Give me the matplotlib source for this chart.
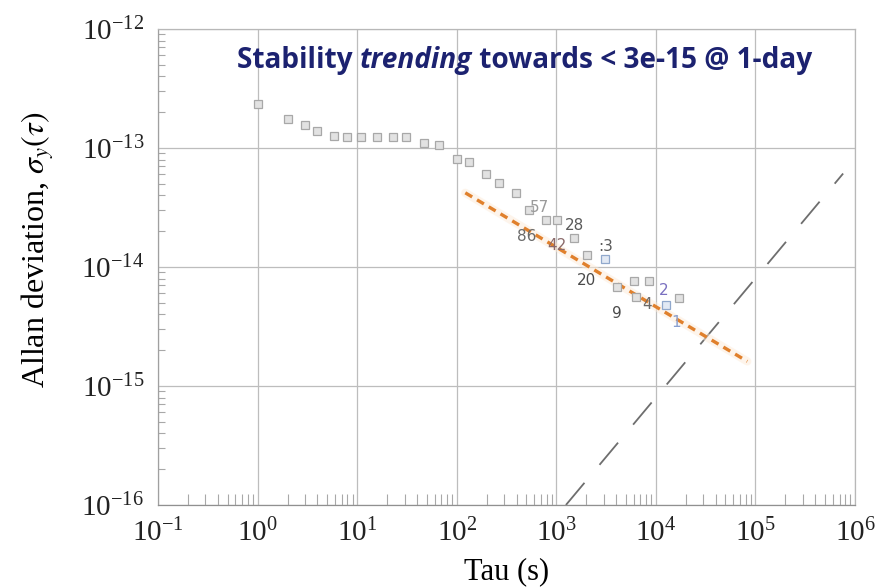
import numpy as np
import matplotlib
matplotlib.use("Agg")
import matplotlib.pyplot as plt
from matplotlib.ticker import FixedLocator, NullFormatter

tau_gray = [1, 2, 3, 4, 5.8, 8, 11, 16, 23, 31, 47, 67, 100, 133, 197, 263,
            393, 535, 787, 1025, 1520, 2050, 4110, 6030, 8500, 6300, 17100]
adev_gray = [2.34e-13, 1.74e-13, 1.56e-13, 1.40e-13, 1.26e-13, 1.24e-13,
             1.24e-13, 1.24e-13, 1.24e-13, 1.24e-13, 1.10e-13, 1.06e-13,
             8.1e-14, 7.6e-14, 6.1e-14, 5.1e-14, 4.2e-14, 3.0e-14, 2.46e-14,
             2.46e-14, 1.74e-14, 1.26e-14, 6.8e-15, 7.6e-15, 7.6e-15,
             5.6e-15, 5.5e-15]
tau_blue = [3100, 12600]
adev_blue = [1.16e-14, 4.8e-15]

# run-number labels written next to the points
run_labels = ["57", "28", "86", "42", ":3", "20", "9", "4", "2", "1"]
run_tau = [674, 1510, 503, 1025, 3160, 1990, 4080, 8220, 12000, 16100]
run_adev = [3.18e-14, 2.21e-14, 1.82e-14, 1.53e-14, 1.48e-14, 7.7e-15,
            4.1e-15, 4.8e-15, 6.4e-15, 3.4e-15]
run_colors = ["#9a9a9a", "#5a5a5a", "#6a6a6a", "#8a6a6a", "#5a5a5a",
              "#4a4a4a", "#4a4a4a", "#6a6a6a", "#7a70c0", "#8aa0d0"]

# trend line (tau^-1/2) and the diagonal reference line (tau^+1)
trend_tau = [122, 82800]
trend_adev = [4.2e-14, 1.61e-15]
ref_tau = [1250, 7.6e5]
ref_adev = [1.0e-16, 6.1e-14]

# decades shown on the axes
x_decades = list(range(-1, 7))
y_decades = list(range(-16, -11))

headline = ["Stability ", "trending", " towards < 3e-15 @ 1-day"]
headline_style = ["normal", "italic", "normal"]

serif = "Liberation Serif"
plt.rcParams["mathtext.fontset"] = "stix"
plt.rcParams["font.family"] = serif

fig = plt.figure(figsize=(8.85, 5.88), dpi=100)
ax = fig.add_axes([0.1785, 0.1412, 0.7876, 0.8095])

ax.set_xscale("log")
ax.set_yscale("log")
ax.set_xlim(10.0 ** x_decades[0], 10.0 ** x_decades[-1])
ax.set_ylim(10.0 ** y_decades[0], 10.0 ** y_decades[-1])


def minor_between(decades):
    return [m * 10.0 ** d for d in decades[:-1] for m in range(2, 10)]


ax.xaxis.set_major_locator(FixedLocator([10.0 ** d for d in x_decades]))
ax.yaxis.set_major_locator(FixedLocator([10.0 ** d for d in y_decades]))
ax.xaxis.set_minor_locator(FixedLocator(minor_between(x_decades)))
ax.yaxis.set_minor_locator(FixedLocator(minor_between(y_decades)))
ax.xaxis.set_minor_formatter(NullFormatter())
ax.yaxis.set_minor_formatter(NullFormatter())

ax.grid(True, which="major", color="#bdbdbd", linewidth=0.9)
for s in ax.spines.values():
    s.set_color("#b8b8b8")
    s.set_linewidth(0.9)
ax.spines["bottom"].set_color("#909090")
ax.spines["left"].set_color("#a0a0a0")

ax.tick_params(which="both", direction="in", colors="#a8a8a8",
               labelcolor="#222222", labelsize=21)
ax.tick_params(which="major", length=0, pad=10)
ax.tick_params(axis="x", which="minor", length=8, width=0.8)
ax.tick_params(axis="y", which="minor", length=5, width=0.8)

ax.plot(ref_tau, ref_adev, color="#6e6e6e", linewidth=1.3,
        linestyle=(0, (16, 13)))

ax.plot(trend_tau, trend_adev, color="#fdebd8", linewidth=6, alpha=0.5,
        solid_capstyle="round")
ax.plot(trend_tau, trend_adev, color="#e0802c", linewidth=2.4,
        linestyle=(0, (2.4, 1.7)))

ax.plot(tau_gray, adev_gray, linestyle="none", marker="s", markersize=5.5,
        markerfacecolor="#e2e2e2", markeredgecolor="#a8a8a8",
        markeredgewidth=0.9)
ax.plot(tau_blue, adev_blue, linestyle="none", marker="s", markersize=5.5,
        markerfacecolor="#e2e9f4", markeredgecolor="#90a8cc",
        markeredgewidth=0.9)

for lab, t, a, c in zip(run_labels, run_tau, run_adev, run_colors):
    ax.text(t, a, lab, color=c, fontsize=11, family="DejaVu Sans",
            ha="center", va="center")

ax.set_xlabel("Tau (s)", fontsize=22, labelpad=7)
fig.text(38 / 885, 1 - 250 / 588, r"Allan deviation, $\sigma_y(\tau)$",
         fontsize=23, rotation=90, ha="center", va="center")

# headline, with the word "trending" in italics; pieces placed side by side
renderer = fig.canvas.get_renderer()
x_px = 237.0
for piece, style in zip(headline, headline_style):
    t = fig.text(x_px / 885, 1 - 68 / 588, piece, family="Open Sans",
                 weight="bold", style=style, fontsize=20.2, color="#1c2270",
                 va="baseline", ha="left")
    x_px += t.get_window_extent(renderer).width

fig.savefig("out.png", dpi=100)
